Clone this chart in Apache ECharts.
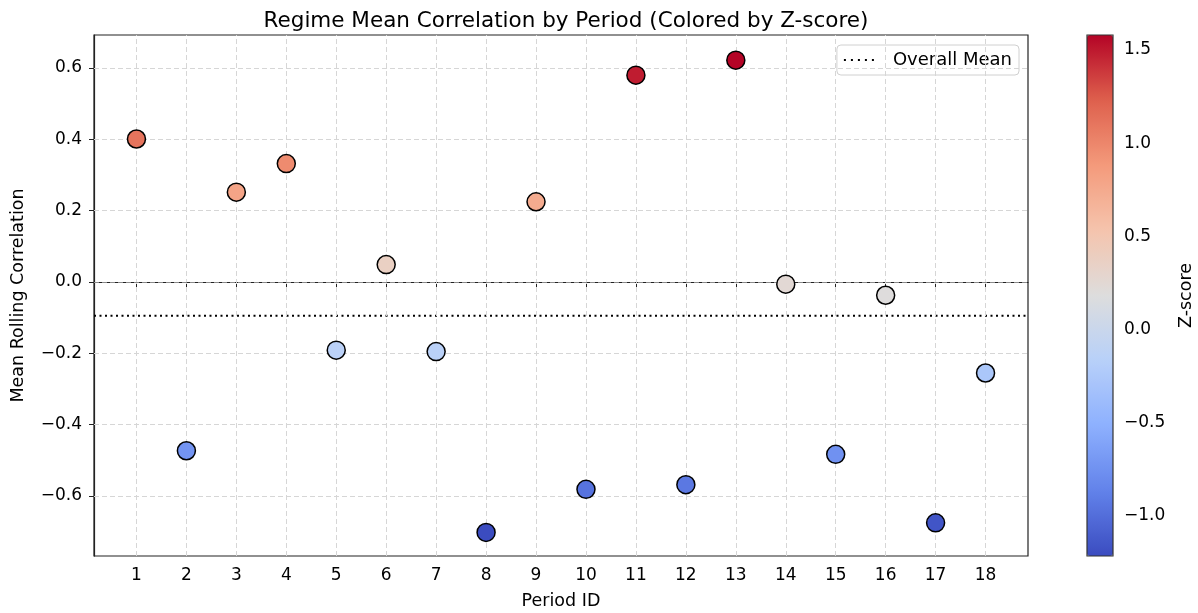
<!DOCTYPE html>
<html><head><meta charset="utf-8">
<script src="https://cdn.jsdelivr.net/npm/echarts@6/dist/echarts.min.js"></script>
<style>html,body{margin:0;padding:0;background:#fff}#c{width:1198px;height:613px}</style>
</head><body><div id="c"></div>
<script>
// ---- data ----
const periods   = [1,2,3,4,5,6,7,8,9,10,11,12,13,14,15,16,17,18];
const meanCorr  = [0.401,-0.473,0.252,0.332,-0.191,0.049,-0.195,-0.702,0.225,-0.581,0.580,-0.568,0.622,-0.006,-0.483,-0.037,-0.675,-0.255];
const zScores   = [1.11,-0.73,0.80,0.97,-0.14,0.37,-0.15,-1.22,0.74,-0.96,1.49,-0.93,1.58,0.25,-0.75,0.19,-1.16,-0.27];
const overallMean = -0.0947;
const xTicks = [1,2,3,4,5,6,7,8,9,10,11,12,13,14,15,16,17,18];
const yTicks = [-0.6,-0.4,-0.2,0.0,0.2,0.4,0.6];
const zTicks = [-1.0,-0.5,0.0,0.5,1.0,1.5];
const xRange = [0.15, 18.85];
const yRange = [-0.768, 0.6925];
const zRange = [-1.215, 1.58];
const coolwarm = ['#3b4cc0','#6282ea','#8db0fe','#b8d0f9','#dddddd','#f5c4ad','#f49a7b','#de604d','#b40426'];

const FONT = 'DejaVu Sans';
const fmt = v => (Math.abs(v) < 1e-9 ? 0 : v).toFixed(1).replace('-', '\u2212');
const gridLine = {type: [5, 3], color: '#d6d6d6', width: 1};
const dottedIcon = 'path://M0,0h2v2h-2z M7,0h2v2h-2z M14,0h2v2h-2z M21,0h2v2h-2z M28,0h2v2h-2z';

const chart = echarts.init(document.getElementById('c'), null, {renderer: 'canvas'});
chart.setOption({
  animation: false,
  backgroundColor: '#fff',
  textStyle: {fontFamily: FONT, color: '#000'},
  title: {
    text: 'Regime Mean Correlation by Period (Colored by Z-score)',
    left: 561, top: 5, textAlign: 'center',
    textStyle: {fontFamily: FONT, fontSize: 21.5, fontWeight: 'normal', color: '#000'}
  },
  legend: {
    data: [{name: 'Overall Mean', icon: dottedIcon, itemStyle: {color: '#000'}}],
    right: 179, top: 45,
    orient: 'vertical',
    padding: [6, 7, 6, 7],
    itemWidth: 30, itemHeight: 2,
    backgroundColor: 'rgba(255,255,255,0.85)',
    borderColor: '#d0d0d0', borderWidth: 1, borderRadius: 4,
    textStyle: {fontFamily: FONT, fontSize: 18, color: '#000', padding: [0, 0, 0, 14]}
  },
  grid: [
    {left: 94, right: 170, top: 35, bottom: 57, outerBoundsMode: 'none', containLabel: false,
     show: true, borderColor: '#222', borderWidth: 1.2, backgroundColor: '#fff'},
    {left: 1087, width: 26, top: 35, bottom: 57, outerBoundsMode: 'none', containLabel: false, show: false}
  ],
  xAxis: [
    {
      type: 'value', gridIndex: 0, min: xRange[0], max: xRange[1],
      name: 'Period ID', nameLocation: 'middle', nameGap: 36,
      nameTextStyle: {fontFamily: FONT, fontSize: 17.5, color: '#000'},
      axisLine: {show: true, lineStyle: {color: '#222', width: 1.2}},
      axisTick: {show: true, length: 5, customValues: xTicks, lineStyle: {color: '#222'}},
      axisLabel: {customValues: xTicks, fontFamily: FONT, fontSize: 17, color: '#000', margin: 11},
      splitLine: {show: false}
    },
    {type: 'value', gridIndex: 1, min: 0, max: 1, show: false}
  ],
  yAxis: [
    {
      type: 'value', gridIndex: 0, min: yRange[0], max: yRange[1],
      name: 'Mean Rolling Correlation', nameLocation: 'middle', nameGap: 67, nameRotate: 90,
      nameTextStyle: {fontFamily: FONT, fontSize: 17.5, color: '#000'},
      axisLine: {show: true, lineStyle: {color: '#222', width: 1.2}},
      axisTick: {show: true, length: 5, customValues: yTicks, lineStyle: {color: '#222'}},
      axisLabel: {customValues: yTicks, formatter: fmt, fontFamily: FONT, fontSize: 17, color: '#000', margin: 12},
      splitLine: {show: false}
    },
    {
      type: 'value', gridIndex: 1, min: zRange[0], max: zRange[1], position: 'right',
      name: 'Z-score', nameLocation: 'middle', nameGap: 64, nameRotate: 90,
      nameTextStyle: {fontFamily: FONT, fontSize: 17.5, color: '#000'},
      axisLine: {show: false},
      axisTick: {show: true, length: 5, customValues: zTicks, lineStyle: {color: '#222'}},
      axisLabel: {customValues: zTicks, formatter: fmt, fontFamily: FONT, fontSize: 17, color: '#000', margin: 11},
      splitLine: {show: false}
    }
  ],
  visualMap: {
    type: 'continuous', dimension: 2, seriesIndex: 0,
    min: zRange[0], max: zRange[1],
    orient: 'vertical', left: 1087, top: 35,
    itemWidth: 26, itemHeight: 521, padding: 0,
    calculable: false, hoverLink: false,
    inRange: {color: coolwarm},
    textStyle: {color: 'transparent'}
  },
  graphic: [{
    type: 'rect', z: 100, silent: true,
    shape: {x: 1087, y: 35, width: 26, height: 521},
    style: {fill: 'none', stroke: '#333', lineWidth: 1.2}
  }],
  series: [
    {
      name: 'Regimes', type: 'scatter', xAxisIndex: 0, yAxisIndex: 0, z: 5,
      symbol: 'circle', symbolSize: 18,
      itemStyle: {borderColor: '#000', borderWidth: 1.5, opacity: 1},
      data: periods.map((p, i) => [p, meanCorr[i], zScores[i]])
    },
    {
      name: 'Overall Mean', type: 'line', xAxisIndex: 0, yAxisIndex: 0, z: 4,
      symbol: 'none', silent: true,
      lineStyle: {color: '#000', width: 2, type: [2, 3.5]},
      itemStyle: {color: '#000'},
      data: [[xRange[0], overallMean], [xRange[1], overallMean]]
    },
    {
      name: 'gridlines', type: 'line', xAxisIndex: 0, yAxisIndex: 0, z: 1,
      data: [], silent: true,
      markLine: {
        silent: true, symbol: 'none', animation: false,
        label: {show: false},
        lineStyle: gridLine,
        data: yTicks.map(v => ({yAxis: v})).concat(xTicks.map(v => ({xAxis: v})))
      }
    },
    {
      name: 'zero', type: 'line', xAxisIndex: 0, yAxisIndex: 0, z: 2,
      data: [], silent: true,
      markLine: {
        silent: true, symbol: 'none', animation: false,
        label: {show: false},
        lineStyle: {type: [5, 3], color: '#8a8a8a', width: 1.2},
        data: [{yAxis: 0}]
      }
    }
  ]
});
</script>
</body></html>
